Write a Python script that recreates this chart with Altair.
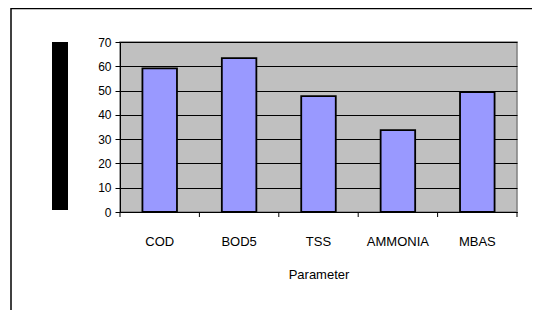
import altair as alt
import pandas as pd

categories = ["COD", "BOD5", "TSS", "AMMONIA", "MBAS"]
values = [59.1, 63.4, 47.7, 33.7, 49.4]
y_ticks = [0, 10, 20, 30, 40, 50, 60, 70]
tick_positions = [0, 1, 2, 3, 4, 5]

df = pd.DataFrame({"Parameter": categories, "Value": values})
ticks_df = pd.DataFrame({"pos": tick_positions})

W, H = 397, 170
FONT = "Liberation Sans"

bars = alt.Chart(df).mark_bar(
    color="#9999FF", stroke="black", strokeWidth=1.8
).encode(
    x=alt.X("Parameter:N", sort=categories,
            scale=alt.Scale(paddingInner=0.565, paddingOuter=0.2825),
            axis=alt.Axis(title="Parameter", labelAngle=0, ticks=False, tickSize=0,
                          labelPadding=23, labelFontSize=13, labelFont=FONT,
                          labelColor="black", domainColor="black", domainWidth=1,
                          titleFont=FONT, titleFontSize=13, titleFontWeight="normal",
                          titleColor="black", titleBaseline="alphabetic",
                          titleY=66, titleX=W / 2, grid=False)),
    y=alt.Y("Value:Q", scale=alt.Scale(domain=[0, 70], nice=False),
            axis=alt.Axis(title=None, values=y_ticks, grid=True, gridColor="black",
                          gridWidth=1, gridOpacity=1, tickColor="black", tickSize=5,
                          labelPadding=4, labelFontSize=12, labelFont=FONT,
                          labelColor="black", domainColor="black", domainWidth=1)),
)

xticks = alt.Chart(ticks_df).mark_rule(color="black", strokeWidth=1).encode(
    x=alt.X("pos:Q", scale=alt.Scale(domain=[0, 5], nice=False, zero=False), axis=None),
    y=alt.value(H),
    y2=alt.value(H + 5),
)

frame_top = alt.Chart(ticks_df.head(1)).mark_rule(color="black", strokeWidth=1.5).encode(
    x=alt.value(-109), x2=alt.value(W + 30), y=alt.value(-33.5)
)
frame_left = alt.Chart(ticks_df.head(1)).mark_rule(color="black", strokeWidth=1.5).encode(
    x=alt.value(-109), y=alt.value(-34), y2=alt.value(H + 110)
)
black_box = alt.Chart(ticks_df.head(1)).mark_rect(color="black").encode(
    x=alt.value(-68), x2=alt.value(-52), y=alt.value(0), y2=alt.value(168)
)

chart = alt.layer(bars, xticks, frame_top, frame_left, black_box).resolve_scale(
    x="independent"
).properties(
    width=W, height=H,
    autosize=alt.AutoSizeParams(type="none"),
    padding={"left": 112, "top": 34, "right": 15, "bottom": 110},
    background="white",
).configure_view(
    fill="#C0C0C0", stroke="#808080", strokeWidth=1.5
)

chart.save("out.html", embed_options={"renderer": "svg", "actions": False})
